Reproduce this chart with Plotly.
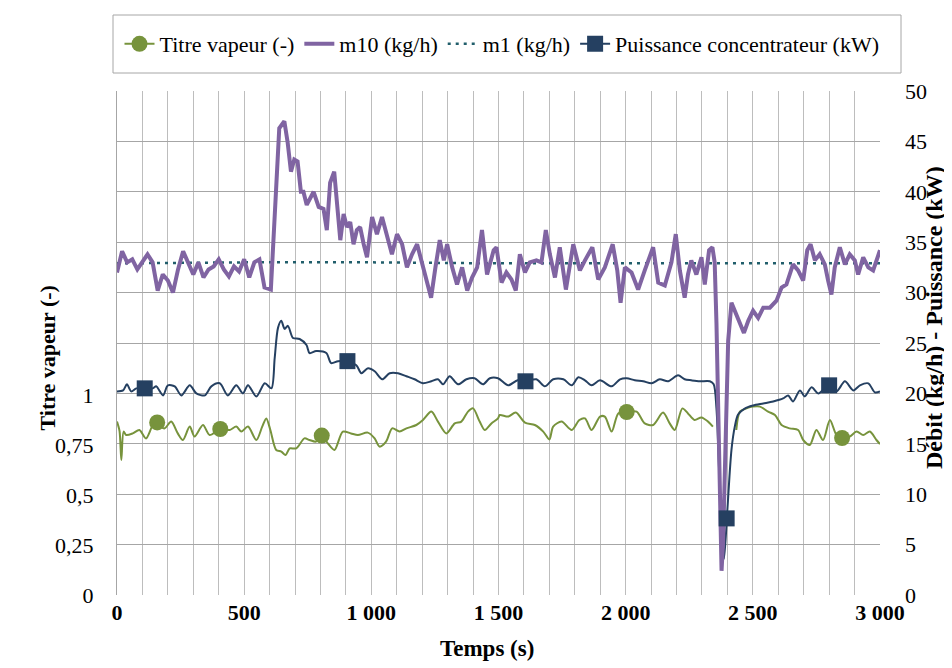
import plotly.graph_objects as go

# ---------------- data ----------------
m10_t = [0, 20, 40, 60, 80, 100, 120, 140, 160, 180, 200, 220, 240, 260, 280, 300, 320, 340, 360, 380,
         400, 420, 440, 460, 480, 500, 520, 540, 560, 580, 605, 615, 625, 638, 650, 658, 671, 684, 697, 710,
         723, 733, 746, 773, 793, 812, 825, 838, 854, 865, 878, 891, 904, 917, 930, 943, 956, 970, 983, 1003,
         1022, 1042, 1062, 1081, 1101, 1121, 1140, 1160, 1180, 1200, 1219, 1235, 1252, 1269, 1285, 1298, 1318, 1337, 1357, 1377,
         1396, 1416, 1435, 1455, 1481, 1492, 1512, 1531, 1551, 1568, 1584, 1604, 1623, 1649, 1669, 1686, 1702, 1722, 1741, 1765,
         1794, 1820, 1840, 1869, 1892, 1918, 1949, 1967, 1980, 1997, 2023, 2049, 2075, 2108, 2128, 2154, 2180, 2197, 2213, 2232,
         2245, 2258, 2278, 2298, 2311, 2328, 2341, 2350, 2357, 2368, 2377, 2383, 2394, 2403, 2416, 2429, 2449, 2465, 2482, 2501,
         2521, 2541, 2567, 2593, 2613, 2632, 2658, 2678, 2698, 2714, 2727, 2744, 2763, 2783, 2796, 2809, 2822, 2842, 2862, 2881,
         2901, 2914, 2934, 2954, 2973, 3000]
m10 = [32.0, 34.1, 33.0, 33.3, 32.3, 33.0, 33.8, 33.0, 30.2, 31.8, 31.2, 30.0, 32.3, 34.1, 33.0, 31.8, 33.0, 31.5, 32.3, 32.6,
       33.3, 32.3, 31.6, 32.6, 32.1, 33.3, 31.5, 33.0, 33.3, 30.5, 30.3, 36.0, 40.0, 46.3, 46.8, 47.0, 44.9, 42.0, 43.2, 43.0,
       40.0, 40.0, 38.7, 40.0, 38.5, 38.3, 36.2, 40.9, 42.0, 39.0, 35.2, 37.8, 36.5, 37.0, 34.8, 36.2, 36.5, 34.8, 33.5, 37.5,
       35.8, 37.5, 35.5, 33.8, 35.8, 34.8, 32.5, 33.8, 34.8, 32.8, 31.2, 29.5, 32.5, 35.2, 33.2, 34.8, 32.5, 30.8, 32.5, 30.2,
       31.5, 32.5, 36.2, 31.8, 34.2, 34.5, 31.0, 32.0, 31.3, 30.2, 33.8, 32.0, 33.0, 33.2, 33.0, 36.2, 33.8, 31.5, 34.5, 30.3,
       34.8, 32.2, 33.2, 34.5, 31.3, 32.5, 34.8, 32.2, 29.0, 32.5, 32.0, 30.3, 32.2, 34.5, 31.0, 30.7, 33.0, 35.8, 32.2, 29.5,
       31.8, 33.2, 31.8, 33.5, 30.8, 34.2, 34.5, 33.0, 27.0, 12.0, 2.4, 5.3, 15.3, 25.2, 29.0, 28.2, 27.0, 26.0, 27.2, 28.2,
       27.5, 28.5, 28.5, 29.2, 30.5, 30.8, 32.8, 32.2, 31.2, 34.2, 34.8, 33.2, 33.8, 32.8, 31.2, 29.8, 32.5, 34.5, 32.8, 33.8,
       33.2, 31.8, 33.5, 32.5, 32.2, 34.2]

m1_t = [0, 500, 1000, 1500, 2000, 2500, 3000]
m1 = [32.9, 33.0, 33.0, 32.9, 32.9, 32.9, 32.9]

puiss_t = [0, 24, 39, 56, 76, 109, 141, 154, 181, 200, 227, 253, 286, 312, 345, 371, 404, 436, 469, 495,
           515, 548, 581, 607, 620, 633, 646, 659, 672, 692, 718, 745, 757, 783, 823, 842, 869, 906, 941, 961,
           987, 1013, 1043, 1072, 1105, 1138, 1170, 1203, 1236, 1262, 1282, 1308, 1341, 1374, 1406, 1439, 1466, 1498, 1538, 1575,
           1606, 1649, 1682, 1715, 1755, 1788, 1814, 1840, 1866, 1899, 1945, 1978, 2004, 2036, 2069, 2102, 2134, 2167, 2206, 2232,
           2258, 2291, 2331, 2346, 2357, 2368, 2381, 2387, 2400, 2416, 2429, 2442, 2468, 2501, 2541, 2580, 2619, 2639, 2658, 2685,
           2704, 2731, 2757, 2800, 2829, 2862, 2895, 2921, 2954, 2980, 3000]
puiss = [20.2, 20.3, 20.9, 20.2, 20.5, 20.5, 20.5, 20.7, 19.8, 20.8, 20.7, 19.8, 20.8, 20.0, 19.8, 20.7, 21.0, 19.8, 20.8, 20.0,
         20.8, 19.7, 21.0, 20.5, 23.5, 26.5, 27.2, 26.4, 26.7, 25.5, 25.4, 24.8, 24.0, 24.2, 24.0, 23.0, 23.2, 23.2, 22.8, 22.0,
         22.5, 22.2, 21.4, 22.0, 22.0, 21.7, 21.4, 21.0, 21.2, 21.4, 20.9, 21.7, 20.9, 21.4, 21.5, 20.9, 21.5, 21.5, 20.8, 21.3,
         21.2, 21.4, 20.7, 21.4, 21.4, 20.8, 21.6, 21.3, 20.8, 21.3, 20.7, 21.4, 21.5, 21.3, 21.2, 21.0, 21.4, 21.2, 21.8, 21.4,
         21.3, 21.2, 21.2, 20.9, 18.5, 12.0, 5.3, 3.6, 8.5, 14.4, 16.7, 17.9, 18.5, 18.8, 19.0, 19.2, 19.5, 19.8, 19.2, 20.3,
         19.7, 20.6, 20.0, 20.8, 20.2, 21.2, 20.3, 20.8, 21.0, 20.1, 20.2]

titre_t = [0, 10, 17, 26, 36, 62, 88, 114, 147, 186, 213, 239, 259, 286, 305, 338, 364, 406, 443, 469,
           489, 515, 548, 571, 587, 603, 626, 646, 663, 679, 705, 737, 757, 783, 805, 829, 855, 888, 920, 947,
           986, 1013, 1032, 1058, 1082, 1111, 1138, 1177, 1203, 1236, 1262, 1295, 1328, 1354, 1380, 1400, 1426, 1446, 1472, 1498,
           1505, 1538, 1568, 1604, 1643, 1676, 1700, 1715, 1748, 1788, 1818, 1840, 1866, 1899, 1918, 1945, 1971, 2004, 2043, 2075,
           2108, 2147, 2173, 2193, 2223, 2245, 2271, 2298, 2324, 2343, 2390, 2435, 2449, 2475, 2501, 2528, 2560, 2587, 2613, 2645,
           2678, 2698, 2724, 2750, 2776, 2803, 2829, 2851, 2881, 2908, 2934, 2960, 2986, 3000]
titre = [0.867, 0.82, 0.675, 0.817, 0.80, 0.808, 0.825, 0.783, 0.858, 0.833, 0.867, 0.808, 0.775, 0.842, 0.792, 0.85, 0.80, 0.83, 0.825, 0.842,
         0.817, 0.842, 0.775, 0.842, 0.883, 0.825, 0.725, 0.717, 0.70, 0.733, 0.733, 0.783, 0.775, 0.767, 0.797, 0.758, 0.725, 0.817, 0.808, 0.80,
         0.812, 0.783, 0.742, 0.767, 0.833, 0.817, 0.833, 0.85, 0.875, 0.917, 0.867, 0.808, 0.858, 0.867, 0.917, 0.933, 0.867, 0.825, 0.858, 0.883,
         0.90, 0.892, 0.912, 0.862, 0.85, 0.817, 0.778, 0.842, 0.867, 0.825, 0.875, 0.883, 0.825, 0.892, 0.892, 0.817, 0.908, 0.915, 0.917, 0.858,
         0.85, 0.912, 0.858, 0.825, 0.933, 0.908, 0.875, 0.888, 0.867, 0.842, None, 0.825, 0.917, 0.933, 0.942, 0.942, 0.917, 0.90, 0.85, 0.833,
         0.825, 0.775, 0.75, 0.825, 0.775, 0.875, 0.80, 0.785, 0.792, 0.817, 0.80, 0.817, 0.775, 0.755]

titre_mk_t = [158, 406, 805, 2004, 2851]
titre_mk = [0.863, 0.83, 0.797, 0.915, 0.785]
puiss_mk_t = [109, 906, 1606, 2397, 2800]
puiss_mk = [20.5, 23.2, 21.2, 7.6, 20.8]

x_tickvals = [0, 500, 1000, 1500, 2000, 2500, 3000]
x_ticktext = ["0", "500", "1 000", "1 500", "2 000", "2 500", "3 000"]
y_tickvals = [0, 0.25, 0.5, 0.75, 1]
y_ticktext = ["0", "0,25", "0,5", "0,75", "1"]

# ---------------- style ----------------
FONT = "Liberation Serif, Times New Roman, Times, serif"
GREEN = "#77933C"
PURPLE = "#8064A2"
TEAL = "#215E6B"
NAVY = "#254061"
HGRID = "#a6a6a6"
VGRID = "#bdbdbd"
FS = 22


def separated(xs, ys):
    """Insert gaps so isolated marker points are not joined by lines."""
    ox, oy = [], []
    for i, (a, b) in enumerate(zip(xs, ys)):
        if i:
            ox.append(a)
            oy.append(None)
        ox.append(a)
        oy.append(b)
    return ox, oy


fig = go.Figure()

fig.add_trace(go.Scatter(x=titre_t, y=titre, mode="lines", yaxis="y",
                         line=dict(color=GREEN, width=2, shape="spline", smoothing=0.8),
                         showlegend=False, connectgaps=False, hoverinfo="skip"))
tx, ty = separated(titre_mk_t, titre_mk)
fig.add_trace(go.Scatter(x=tx, y=ty, mode="lines+markers", yaxis="y",
                         name="Titre vapeur (-)", legendrank=1,
                         line=dict(color=GREEN, width=2),
                         marker=dict(symbol="circle", size=16, color=GREEN)))

fig.add_trace(go.Scatter(x=m1_t, y=m1, mode="lines", yaxis="y2",
                         name="m1 (kg/h)", legendrank=3,
                         line=dict(color=TEAL, width=2.5, dash="3px,5px")))
fig.add_trace(go.Scatter(x=puiss_t, y=puiss, mode="lines", yaxis="y2",
                         line=dict(color=NAVY, width=2, shape="spline", smoothing=0.8),
                         showlegend=False))
fig.add_trace(go.Scatter(x=m10_t, y=m10, mode="lines", yaxis="y2",
                         name="m10 (kg/h)", legendrank=2,
                         line=dict(color=PURPLE, width=4)))
px_, py_ = separated(puiss_mk_t, puiss_mk)
fig.add_trace(go.Scatter(x=px_, y=py_, mode="lines+markers", yaxis="y2",
                         name="Puissance concentrateur (kW)", legendrank=4,
                         line=dict(color=NAVY, width=2),
                         marker=dict(symbol="square", size=16, color=NAVY)))

L, R, T, B = 109, 80, 83, 81
W, H = 952, 668
pw, ph = W - L - R, H - T - B


def px2paper(x, y):
    return (x - L) / pw, (H - B - y) / ph


fig.update_layout(
    width=W, height=H,
    margin=dict(l=L, r=R, t=T, b=B, autoexpand=False),
    paper_bgcolor="white", plot_bgcolor="white",
    font=dict(family=FONT, size=FS, color="black"),
    xaxis=dict(range=[0, 3000], tickvals=x_tickvals, ticktext=x_ticktext,
               tickfont=dict(family=FONT, size=FS, weight="bold"),
               showgrid=True, gridcolor=VGRID, gridwidth=1,
               minor=dict(dtick=100, tick0=0, showgrid=True, gridcolor=VGRID, gridwidth=1),
               zeroline=False, showline=False, ticks="", ticklabelstandoff=2,
               automargin=False),
    yaxis=dict(range=[0, 2.52], tickvals=y_tickvals, ticktext=y_ticktext,
               tickfont=dict(family=FONT, size=FS),
               showgrid=False, zeroline=False, showline=True, linecolor=HGRID,
               linewidth=1, ticks="", ticklabelstandoff=18, automargin=False),
    yaxis2=dict(range=[0, 50], dtick=5, tick0=0, overlaying="y", side="right",
                tickfont=dict(family=FONT, size=FS),
                showgrid=True, gridcolor=HGRID, gridwidth=1, zeroline=False,
                showline=False, ticks="", ticklabelstandoff=24, automargin=False),
    legend=dict(orientation="h", xref="container", yref="container",
                x=494 / W, xanchor="center", y=1 - 36 / H, yanchor="middle",
                borderwidth=0, bgcolor="rgba(0,0,0,0)",
                font=dict(family=FONT, size=22), itemwidth=30),
    showlegend=True,
)

# legend frame
lx0, ly0 = px2paper(105, 65)
lx1, ly1 = px2paper(893, 7)
fig.add_shape(type="rect", xref="paper", yref="paper", x0=lx0, x1=lx1, y0=ly0, y1=ly1,
              line=dict(color=HGRID, width=1), fillcolor="white", layer="above")

ax, ay = px2paper(24, 350)
bx, by = px2paper(941, 310)
cx, cy = px2paper(479, 655)
fig.add_annotation(text="<b>Titre vapeur (-)</b>", x=ax, y=ay, xref="paper", yref="paper",
                   textangle=-90, showarrow=False, font=dict(family=FONT, size=22))
fig.add_annotation(text="<b>Débit (kg/h) - Puissance (kW)</b>", x=bx, y=by, xref="paper", yref="paper",
                   textangle=-90, showarrow=False, font=dict(family=FONT, size=24))
fig.add_annotation(text="<b>Temps (s)</b>", x=cx, y=cy, xref="paper", yref="paper",
                   showarrow=False, font=dict(family=FONT, size=23))

fig.write_html("out.html")
